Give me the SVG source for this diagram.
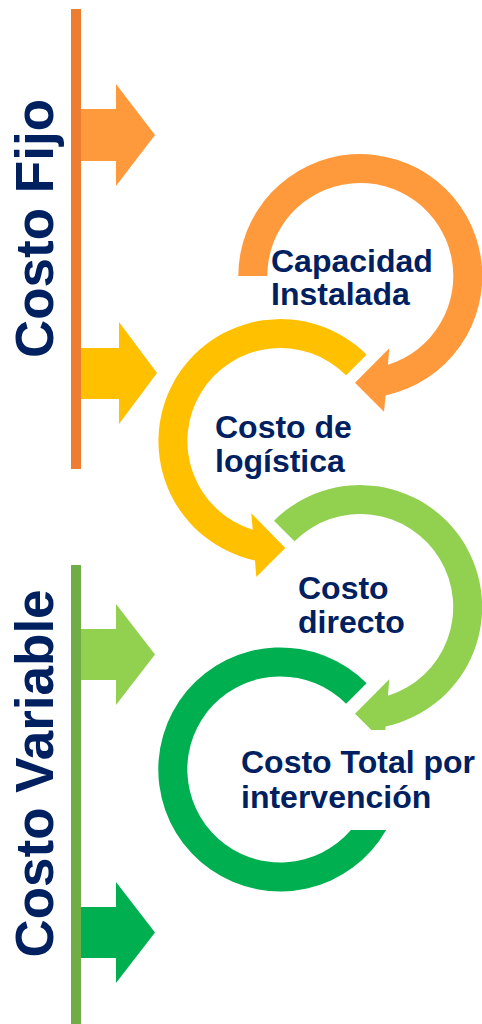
<svg xmlns="http://www.w3.org/2000/svg" width="482" height="1024" viewBox="0 0 482 1024">
  <style>
    .lbl { font-family: "Liberation Sans", Arial, sans-serif; font-weight: bold; fill: #002060; }
    .big { font-size: 53px; }
    .node { font-size: 32px; }
    .orange { fill: #FF9A3C; }
    .yellow { fill: #FFC000; }
    .lgreen { fill: #92D050; }
    .dgreen { fill: #00B050; }
  </style>
  <rect width="482" height="1024" fill="#FFFFFF"/>

  <g id="connectors">
    <polygon class="orange" points="76,109 116,109 116,84 155,135 116,186 116,161 76,161"/>
    <polygon class="yellow" points="76,348 119,348 119,322 157,373 119,424 119,399 76,399"/>
    <polygon class="lgreen" points="76,629 116,629 116,604 155,654.5 116,705 116,680 76,680"/>
    <polygon class="dgreen" points="76,907 116,907 116,882 155,932.5 116,983 116,958 76,958"/>
    <rect x="71" y="9" width="10" height="460" fill="#ED7D31"/>
    <rect x="71" y="565" width="10" height="459" fill="#70AD47"/>
  </g>

  <g id="costo-fijo">
    <text class="lbl big" text-anchor="middle" transform="translate(53.3,228.5) rotate(-90)">Costo Fijo</text>
  </g>
  <g id="costo-variable">
    <text class="lbl big" text-anchor="middle" transform="translate(53.3,773.5) rotate(-90)">Costo Variable</text>
  </g>

  <g id="capacidad-instalada">
    <path class="orange" d="M 238.3 276 A 122 122 0 1 1 385.6 395.4 L 384 411.7 L 355 382.7 L 389.3 348.3 L 387.9 364.8 A 93 93 0 1 0 267.3 276 Z"/>
    <text class="lbl node" x="271" y="271.5">Capacidad</text>
    <text class="lbl node" x="271" y="305">Instalada</text>
  </g>

  <g id="costo-logistica">
    <path class="yellow" d="M 366.6 354.7 A 122 122 0 1 0 255 560.4 L 256.3 577 L 285.3 548 L 251.3 513.3 L 252.7 529.8 A 93 93 0 1 1 346.1 375.2 Z"/>
    <text class="lbl node" x="215" y="438.3">Costo de</text>
    <text class="lbl node" x="215" y="472.3">logística</text>
  </g>

  <g id="costo-directo">
    <path class="lgreen" d="M 274 520.7 A 122 122 0 1 1 385.6 726.4 L 385.3 730 L 371.3 730 L 355 713.7 L 389.3 679.3 L 387.9 695.8 A 93 93 0 1 0 294.5 541.2 Z"/>
    <text class="lbl node" x="298" y="599.3">Costo</text>
    <text class="lbl node" x="298" y="632.7">directo</text>
  </g>

  <g id="costo-total">
    <path class="dgreen" d="M 366.6 683.2 A 122 122 0 1 0 386.2 830 L 350.9 830 A 93 93 0 1 1 346.1 703.7 Z"/>
    <text class="lbl node" x="241" y="772.7">Costo Total por</text>
    <text class="lbl node" x="241" y="808.3">intervención</text>
  </g>
</svg>
